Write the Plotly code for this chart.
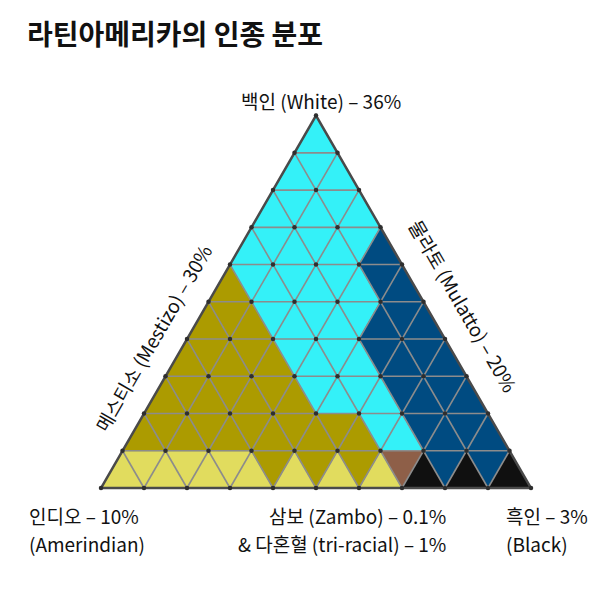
import math
import plotly.graph_objects as go

# ---------------- data ----------------
N = 10  # subdivisions per side
group_codes = ["A", "M", "W", "U", "Z", "B"]
group_names = ["Amerindian", "Mestizo", "White", "Mulatto", "Zambo", "Black"]
group_colors = ["#E1DC5E", "#AC9B00", "#34F1F8", "#004B81", "#8E5F48", "#101010"]

# cells per row (bottom row first), left to right: up, down, up, ... up
row_cells = [
    "AAAAAAAMAMAMAZBUBUB",
    "MMMMMMMMMMMWWUUUU",
    "MMMMMMMWWWWUUUU",
    "MMMMMWWWWUUUU",
    "MMMWWWWWUUU",
    "MWWWWWWUU",
    "WWWWWWU",
    "WWWWW",
    "WWW",
    "W",
]

title_text = "라틴아메리카의 인종 분포"
top_label = "백인 (White) – 36%"
left_label = "메스티소 (Mestizo) – 30%"
right_label = "물라토 (Mulatto) – 20%"
bl_lines = ["인디오 – 10%", "(Amerindian)"]
bm_lines = ["삼보 (Zambo) – 0.1%", "& 다혼혈 (tri-racial) – 1%"]
br_lines = ["흑인 – 3%", "(Black)"]

# ---------------- geometry ----------------
h = math.sqrt(3) / 2
PX = 43.0       # pixels per unit
X0PX = 93.0     # pixel x of left vertex
Y0PX = 480.0    # pixel y of base


def tri(r, k):
    if k % 2 == 0:
        i = k // 2
        return [(i + r / 2, r * h), (i + 1 + r / 2, r * h), (i + 0.5 + r / 2, (r + 1) * h)]
    i = (k - 1) // 2
    return [(i + 0.5 + r / 2, (r + 1) * h), (i + 1.5 + r / 2, (r + 1) * h), (i + 1 + r / 2, r * h)]


fig = go.Figure()

for code, name, col in zip(group_codes, group_names, group_colors):
    xs, ys = [], []
    for r, cells in enumerate(row_cells):
        for k, c in enumerate(cells):
            if c == code:
                pts = tri(r, k)
                for (x, y) in pts + [pts[0]]:
                    xs.append(x)
                    ys.append(y)
                xs.append(None)
                ys.append(None)
    fig.add_trace(go.Scatter(x=xs, y=ys, mode="lines", fill="toself", fillcolor=col,
                             line=dict(width=0.6, color=col), name=name,
                             hoverinfo="skip", showlegend=False))

# grid lines
gx, gy = [], []
for k in range(1, N):
    gx += [k / 2, N - k / 2, None]
    gy += [k * h, k * h, None]
for j in range(1, N):
    gx += [j, j + (N - j) / 2, None]
    gy += [0, (N - j) * h, None]
    gx += [j, j / 2, None]
    gy += [0, j * h, None]
fig.add_trace(go.Scatter(x=gx, y=gy, mode="lines", line=dict(color="#8c8c8c", width=1.6),
                         hoverinfo="skip", showlegend=False))

# border
fig.add_trace(go.Scatter(x=[0, N, N / 2, 0], y=[0, 0, N * h, 0], mode="lines",
                         line=dict(color="#4a4a4a", width=2.5),
                         hoverinfo="skip", showlegend=False))

# vertex dots
vx, vy = [], []
for r in range(N + 1):
    for i in range(N - r + 1):
        vx.append(i + r / 2)
        vy.append(r * h)
fig.add_trace(go.Scatter(x=vx, y=vy, mode="markers",
                         marker=dict(size=4.5, color="#2e2e2e"),
                         hoverinfo="skip", showlegend=False))


def dx(px):
    return (px - X0PX) / PX


def dy(py):
    return (Y0PX - py) / PX


FONT = "Noto Sans CJK KR"
FS = 19
anns = []
anns.append(dict(text="<b>" + title_text + "</b>", x=17 / 600, y=1 - 25 / 600, xref="paper", yref="paper",
                 xanchor="left", yanchor="middle", showarrow=False,
                 font=dict(family=FONT, size=28, color="#111")))
anns.append(dict(text=top_label, x=dx(313), y=dy(92), xanchor="center", yanchor="middle",
                 showarrow=False, font=dict(family=FONT, size=FS, color="#111")))
anns.append(dict(text=left_label, x=dx(144), y=dy(330), xanchor="center", yanchor="middle",
                 textangle=-60, showarrow=False, font=dict(family=FONT, size=FS, color="#111")))
anns.append(dict(text=right_label, x=dx(456), y=dy(297), xanchor="center", yanchor="middle",
                 textangle=60, showarrow=False, font=dict(family=FONT, size=FS, color="#111")))
for li, ypx in zip(bl_lines, [507, 535]):
    anns.append(dict(text=li, x=dx(19), y=dy(ypx), xanchor="left", yanchor="middle",
                     showarrow=False, font=dict(family=FONT, size=FS, color="#111")))
for li, ypx in zip(bm_lines, [507, 535]):
    anns.append(dict(text=li, x=dx(440), y=dy(ypx), xanchor="right", yanchor="middle",
                     showarrow=False, font=dict(family=FONT, size=FS, color="#111")))
for li, ypx in zip(br_lines, [507, 535]):
    anns.append(dict(text=li, x=dx(496), y=dy(ypx), xanchor="left", yanchor="middle",
                     showarrow=False, font=dict(family=FONT, size=FS, color="#111")))

fig.update_layout(
    width=600, height=600,
    margin=dict(l=0, r=0, t=0, b=0),
    paper_bgcolor="white", plot_bgcolor="white",
    xaxis=dict(range=[dx(0), dx(600)], visible=False, fixedrange=True),
    yaxis=dict(range=[dy(600), dy(0)], visible=False, fixedrange=True),
    annotations=anns,
    showlegend=False,
)

fig.write_html("out.html")
